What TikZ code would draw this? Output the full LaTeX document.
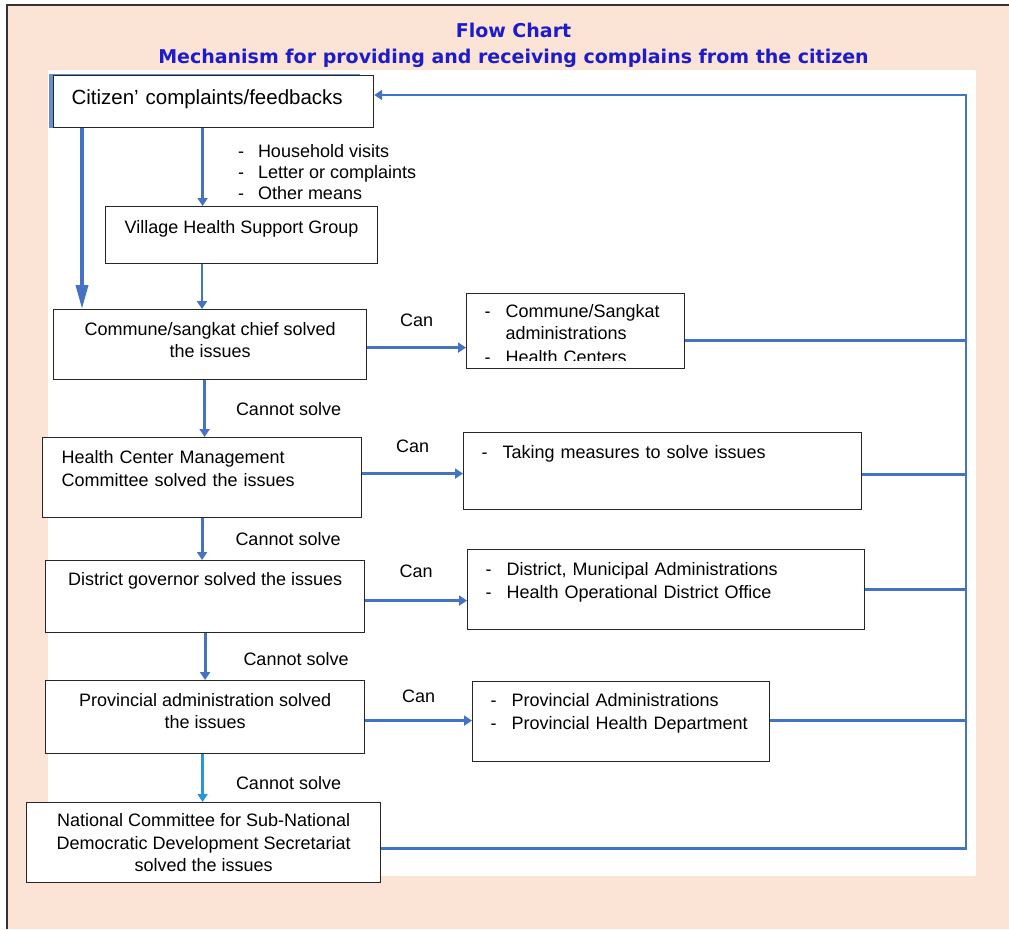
\documentclass[tikz,border=0pt]{standalone}
\usepackage{fontspec}
\usepackage{trimclip}
\setmainfont{Liberation Sans}
\newfontfamily\titlefont{DejaVu Sans}
\usetikzlibrary{positioning, arrows.meta, calc}

\definecolor{peach}{RGB}{251,228,213}
\definecolor{lineblue}{RGB}{68,114,196}
\definecolor{titleblue}{RGB}{28,28,205}
\definecolor{stepblue}{RGB}{40,150,215}
\newcommand{\itemdash}{\makebox[21pt][l]{-}}

\begin{document}
\begin{tikzpicture}[
				x=1pt, y=-1pt,
				box/.style={draw=black!85, line width=1.2pt, fill=white, anchor=north west, inner sep=0pt, font=\fontsize{18}{22.5}\selectfont},
				flow/.style={draw=lineblue, line width=2.8pt},
				arr/.style={flow, -{Triangle[length=8pt,width=10pt]}},
				note/.style={font=\fontsize{18}{21}\selectfont, inner sep=0pt}
				]
				\useasboundingbox (0,0) rectangle (1009,929);
				\fill[peach] (7,5) rectangle (1009,929);
				\draw[black!80, line width=1.4pt] (7,929) -- (7,5) -- (1009,5);
				\fill[white] (48,70) rectangle (976,876);
				\node[font=\titlefont\bfseries\fontsize{19}{26}\selectfont, text=titleblue, align=center, inner sep=0pt] (title) at (513.5,45.5)
				{Flow Chart\\Mechanism for providing and receiving complains from the citizen};
				\fill[lineblue!80] (49,74) rectangle (360,128);
				\node[box, minimum width=320pt, minimum height=52pt, font=\fontsize{20.5}{24}\selectfont, align=left, text width=284pt, inner xsep=18pt, text depth=8.4pt] (cit) at (53,75) {Citizen’ complaints/feedbacks};
				\node[box, minimum width=272pt, minimum height=57pt, text depth=16.6pt] (vhsg) at (105,206) {Village Health Support Group};
				\node[box, minimum width=313pt, minimum height=70pt, align=center, text depth=9.1pt] (ccs) at (53,309) {Commune/sangkat chief solved\\the issues};
				\node[box, minimum width=218pt, minimum height=75pt, align=left, text width=182pt, inner xsep=18pt, text depth=40.2pt] (ccr) at (466,293)
				{\itemdash Commune/Sangkat\\[-1pt]\hspace*{21pt}administrations\\[-1pt]\clipbox{0pt 3.5pt 0pt 0pt}{\itemdash Health Centers}};
				\node[box, minimum width=319pt, minimum height=80pt, align=left, text width=281pt, inner xsep=19pt, text depth=41.2pt] (hcm) at (42,437) {Health Center Management\\Committee solved the issues};
				\node[box, minimum width=398pt, minimum height=77pt, align=left, text width=362pt, inner xsep=18pt, text depth=38.6pt] (tms) at (463,432) {\itemdash Taking measures to solve issues};
				\node[box, minimum width=319pt, minimum height=72pt, text depth=35.6pt] (dgs) at (45,560) {District governor solved the issues};
				\node[box, minimum width=397pt, minimum height=80pt, align=left, text width=361pt, inner xsep=18pt, text depth=41.2pt] (dgr) at (467,549)
				{\itemdash District, Municipal Administrations\\\itemdash Health Operational District Office};
				\node[box, minimum width=319pt, minimum height=73pt, align=center, text depth=12.1pt] (pas) at (45,680) {Provincial administration solved\\the issues};
				\node[box, minimum width=297pt, minimum height=80pt, align=left, text width=261pt, inner xsep=18pt, text depth=43.2pt] (par) at (472,681)
				{\itemdash Provincial Administrations\\\itemdash Provincial Health Department};
				\node[box, minimum width=354pt, minimum height=80pt, align=center, text depth=0pt] (ncs) at (26,802)
				{National Committee for Sub-National\\Democratic Development Secretariat\\solved the issues};
				\coordinate (rail) at (966,95);
				\draw[arr] ([xshift=-11pt]cit.south) -- ([xshift=-11pt]cit.south |- vhsg.north)
				node[note, pos=.56, right=34pt, align=left] {\makebox[20pt][l]{-}Household visits\\\makebox[20pt][l]{-}Letter or complaints\\\makebox[20pt][l]{-}Other means};
				\draw[flow, line width=3.6pt, -{Triangle[length=24pt,width=12pt]}] ([xshift=29pt]cit.south west) -- ([xshift=29pt]cit.south west |- ccs.north);
				\draw[arr] ([xshift=97pt]vhsg.south west) -- ([xshift=97pt]vhsg.south west |- ccs.north);
				\draw[arr] ([xshift=-5.5pt]ccs.south) -- ([xshift=-5.5pt]ccs.south |- hcm.north) node[note, pos=.5, right=30pt] {Cannot solve};
				\draw[arr] (hcm.south) -- (hcm.south |- dgs.north) node[note, pos=.5, right=32pt] {Cannot solve};
				\draw[arr] (dgs.south) -- (dgs.south |- pas.north) node[note, pos=.55, right=37pt] {Cannot solve};
				\draw[arr, draw=stepblue] ([xshift=-2.5pt]pas.south) -- ([xshift=-2.5pt]pas.south |- ncs.north) node[note, pos=.6, right=32pt] {Cannot solve};
				\draw[arr] ([yshift=-3pt]ccs.east) -- ([yshift=-3pt]ccs.east -| ccr.west) node[note, pos=.5, above=20pt] {Can};
				\draw[arr] ([yshift=4pt]hcm.east) -- ([yshift=4pt]hcm.east -| tms.west) node[note, pos=.5, above=20pt] {Can};
				\draw[arr] ([yshift=-4pt]dgs.east) -- ([yshift=-4pt]dgs.east -| dgr.west) node[note, pos=.5, above=22pt] {Can};
				\draw[arr] ([yshift=-3.5pt]pas.east) -- ([yshift=-3.5pt]pas.east -| par.west) node[note, pos=.5, above=17pt] {Can};
				\draw[flow] ([yshift=-9pt]ccr.east) -- ([yshift=-9pt]ccr.east -| rail);
				\draw[flow] ([yshift=-3.5pt]tms.east) -- ([yshift=-3.5pt]tms.east -| rail);
				\draw[flow] (dgr.east) -- (dgr.east -| rail);
				\draw[flow] ([yshift=1pt]par.east) -- ([yshift=1pt]par.east -| rail);
				\draw[arr] ([yshift=-6pt]ncs.east) -| (rail) -- (rail -| cit.east);
\end{tikzpicture}
\end{document}
